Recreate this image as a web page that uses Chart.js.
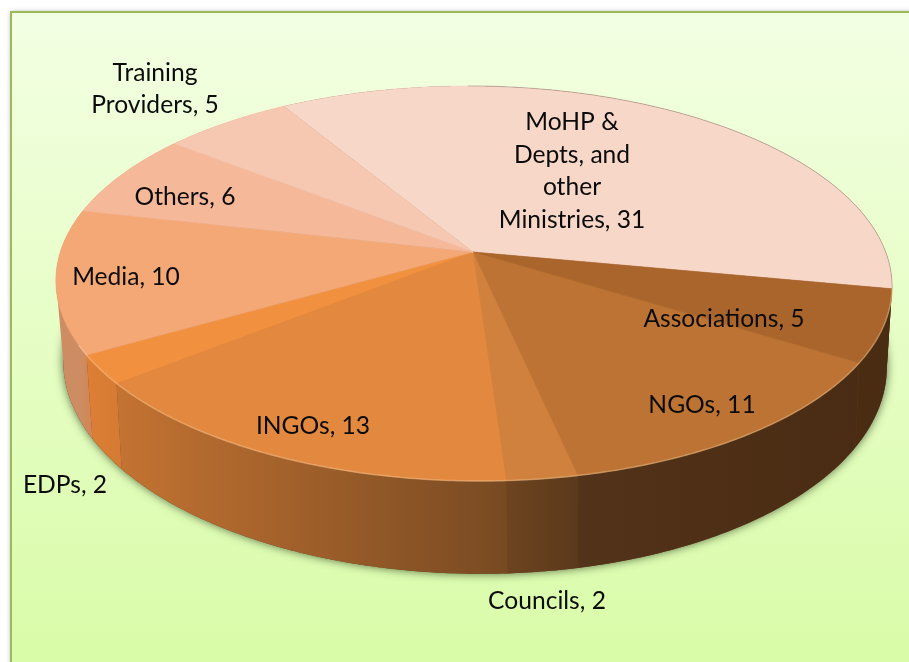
<!DOCTYPE html>
<html lang="en">
<head>
    <meta charset="UTF-8">
    <title>Stakeholders by group</title>
    <script src="https://cdn.jsdelivr.net/npm/chart.js"></script>
    <style>
        html, body { margin: 0; padding: 0; background: #fff; }
        canvas { display: block; }
    </style>
</head>
<body>
    <canvas id="pieChart" width="909" height="662"></canvas>
    <script>
        // data, clockwise from the top-left of the pie
        const categories = ['MoHP & Depts, and other Ministries', 'Associations', 'NGOs', 'Councils', 'INGOs', 'EDPs', 'Media', 'Others', 'Training Providers'];
        const counts = [31, 5, 11, 2, 13, 2, 10, 6, 5];

        // styles
        const faceColors = ['#f7d7c8', '#a9652c', '#bc7333', '#cf813d', '#e2883f', '#f1913f', '#f4a876', '#f5b999', '#f6c8b1'];
        // wall colour at the left and at the right end of each slice
        const wallColors = [
            ['#47290f', '#47290f'], ['#4a2c13', '#4a2c13'], ['#53331a', '#492c13'], ['#6e4420', '#5b391b'],
            ['#c47332', '#784a22'], ['#dd7f35', '#d67b33'], ['#cd8c62', '#d28758'], ['#cd8c62', '#cd8c62'], ['#cd8c62', '#cd8c62']
        ];

        // label text, one entry per line, with centre of the block
        const labelLines = [
            ['MoHP &', 'Depts, and', 'other', 'Ministries, 31'], ['Associations, 5'], ['NGOs, 11'], ['Councils, 2'],
            ['INGOs, 13'], ['EDPs, 2'], ['Media, 10'], ['Others, 6'], ['Training', 'Providers, 5']
        ];
        const labelCentres = [[572, 171], [724, 319], [702, 405], [547, 601], [313, 426], [65, 485], [126, 277], [185, 197], [155, 89]];
        const lineHeight = 32.7;

        // perspective of the top face and of the bottom edge
        const topRim = { x: 473, y: 252, r: 412.7, s: 192.5, p: -0.1594, skew: 6 };
        const bottomRim = { x: 474, y: 329, r: 406, s: 204, p: -0.1667, skew: 6 };

        function project(rim, angle) {
            const u = Math.cos(angle), v = Math.sin(angle);
            const w = 1 + rim.p * v;
            return { x: rim.x + (rim.r * u + rim.skew * v) / w, y: rim.y + rim.s * v / w };
        }

        function traceRim(ctx, rim, from, to) {
            const steps = Math.max(2, Math.ceil(Math.abs(to - from) / 0.01));
            for (let i = 0; i <= steps; i++) {
                const p = project(rim, from + (to - from) * i / steps);
                ctx.lineTo(p.x, p.y);
            }
        }

        // leftmost or rightmost point of a rim
        function extreme(rim, sign) {
            let best = project(rim, 0);
            for (let a = 0; a < Math.PI * 2; a += 0.01) {
                const p = project(rim, a);
                if ((p.x - best.x) * sign > 0) best = p;
            }
            return best;
        }

        const pie3d = {
            id: 'pie3d',
            beforeDraw(chart) {
                const ctx = chart.ctx;
                const panel = ctx.createLinearGradient(0, 12, 0, 662);
                panel.addColorStop(0, '#f3ffe3');
                panel.addColorStop(1, '#d9fca8');
                ctx.save();
                ctx.shadowColor = 'rgba(0,0,0,0.35)';
                ctx.shadowBlur = 5;
                ctx.fillStyle = panel;
                ctx.fillRect(11, 12, 920, 670);
                ctx.restore();
                ctx.strokeStyle = '#9bbb59';
                ctx.lineWidth = 2;
                ctx.strokeRect(11, 12, 920, 670);
            },
            beforeDatasetsDraw(chart) {
                const ctx = chart.ctx;
                const arcs = chart.getDatasetMeta(0).data;
                ctx.save();

                // soft shadow round the lower edge
                ctx.save();
                ctx.shadowColor = 'rgba(50,70,35,0.8)';
                ctx.shadowBlur = 10;
                ctx.fillStyle = '#6b4120';
                ctx.beginPath();
                traceRim(ctx, bottomRim, 0, Math.PI * 2);
                ctx.closePath();
                ctx.fill();
                ctx.restore();

                // silhouette between the two rims, left and right
                const left = extreme(topRim, -1), leftB = extreme(bottomRim, -1);
                ctx.fillStyle = wallColors[6][0];
                ctx.beginPath();
                ctx.moveTo(left.x, left.y);
                ctx.lineTo(leftB.x, leftB.y);
                ctx.lineTo(leftB.x + 40, leftB.y);
                ctx.lineTo(left.x + 40, left.y);
                ctx.fill();
                const right = extreme(topRim, 1), rightB = extreme(bottomRim, 1);
                ctx.fillStyle = wallColors[1][1];
                ctx.beginPath();
                ctx.moveTo(right.x, right.y);
                ctx.lineTo(rightB.x, rightB.y);
                ctx.lineTo(rightB.x - 40, rightB.y);
                ctx.lineTo(right.x - 40, right.y);
                ctx.fill();

                // side wall
                arcs.forEach((arc, i) => {
                    const a = project(topRim, arc.startAngle), b = project(topRim, arc.endAngle);
                    const g = ctx.createLinearGradient(Math.min(a.x, b.x), 0, Math.max(a.x, b.x) + 0.01, 0);
                    g.addColorStop(0, wallColors[i][0]);
                    g.addColorStop(1, wallColors[i][1]);
                    ctx.fillStyle = g;
                    ctx.beginPath();
                    traceRim(ctx, topRim, arc.startAngle, arc.endAngle);
                    traceRim(ctx, bottomRim, arc.endAngle, arc.startAngle);
                    ctx.closePath();
                    ctx.fill();
                });

                // top face
                arcs.forEach(arc => {
                    ctx.fillStyle = arc.options.backgroundColor;
                    ctx.strokeStyle = arc.options.backgroundColor;
                    ctx.lineWidth = 0.6;
                    ctx.beginPath();
                    ctx.moveTo(topRim.x, topRim.y);
                    traceRim(ctx, topRim, arc.startAngle, arc.endAngle);
                    ctx.closePath();
                    ctx.fill();
                    ctx.stroke();
                });

                // bevel highlight on the front rim, thin grey edge at the back
                const first = arcs[0];
                ctx.lineWidth = 1.5;
                ctx.strokeStyle = 'rgba(255,215,165,0.4)';
                ctx.beginPath();
                traceRim(ctx, topRim, first.endAngle, arcs[5].endAngle + 0.05);
                ctx.stroke();
                ctx.lineWidth = 1;
                ctx.strokeStyle = 'rgba(120,95,85,0.35)';
                ctx.beginPath();
                traceRim(ctx, topRim, -Math.PI / 2, first.endAngle);
                ctx.stroke();

                ctx.restore();
                return false;
            },
            afterDraw(chart) {
                const ctx = chart.ctx;
                ctx.save();
                ctx.font = '24.6px Lato, "Open Sans", sans-serif';
                ctx.fillStyle = '#0b0b0b';
                ctx.textAlign = 'center';
                ctx.textBaseline = 'middle';
                labelLines.forEach((lines, i) => {
                    const top = labelCentres[i][1] - (lines.length - 1) * lineHeight / 2;
                    lines.forEach((line, j) => ctx.fillText(line, labelCentres[i][0], top + j * lineHeight));
                });
                ctx.restore();
            }
        };

        new Chart(document.getElementById('pieChart').getContext('2d'), {
            type: 'pie',
            data: {
                labels: categories,
                datasets: [{ data: counts, backgroundColor: faceColors, borderWidth: 0 }]
            },
            options: {
                responsive: false,
                animation: false,
                rotation: -30.6,
                plugins: { legend: { display: false }, tooltip: { enabled: false } }
            },
            plugins: [pie3d]
        });
    </script>
</body>
</html>
